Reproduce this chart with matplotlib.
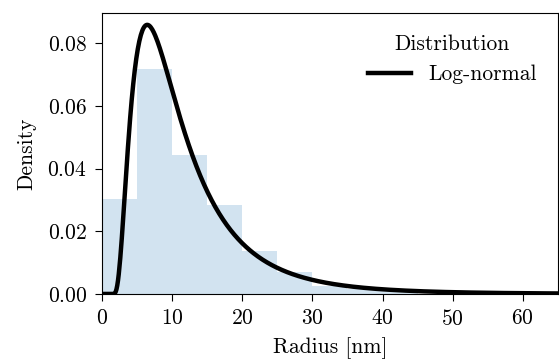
import numpy as np
import matplotlib
matplotlib.use("Agg")
import matplotlib.pyplot as plt

# histogram of radii (density, 5 nm bins)
bin_edges = [0, 5, 10, 15, 20, 25, 30, 35, 40, 45]
bin_density = [0.0302, 0.0719, 0.0443, 0.0285, 0.0138, 0.0071, 0.0025, 0.0015, 0.0010]

# fitted log-normal (shape, loc, scale)
ln_shape = 0.714
ln_loc = 1.4
ln_scale = 8.4

x_ticks = [0, 10, 20, 30, 40, 50, 60]
y_ticks = [0.00, 0.02, 0.04, 0.06, 0.08]

plt.rcParams["font.family"] = "serif"
plt.rcParams["font.serif"] = ["cmr10"]
plt.rcParams["axes.formatter.use_mathtext"] = True
plt.rcParams["font.size"] = 15.5
plt.rcParams["xtick.major.size"] = 4.8
plt.rcParams["ytick.major.size"] = 4.8
plt.rcParams["xtick.major.pad"] = 6
plt.rcParams["ytick.major.pad"] = 6


def lognorm_pdf(x, s, loc, scale):
    u = np.asarray(x, dtype=float) - loc
    out = np.zeros_like(u)
    m = u > 0
    out[m] = np.exp(-(np.log(u[m] / scale)) ** 2 / (2 * s ** 2)) / (u[m] * s * np.sqrt(2 * np.pi))
    return out


fig = plt.figure(figsize=(5.59, 3.62), dpi=100)
ax = fig.add_axes([0.1825, 0.188, 0.8155, 0.776])

ax.bar(bin_edges[:-1], bin_density, width=np.diff(bin_edges), align="edge",
       color="#1f77b4", alpha=0.2, linewidth=0)

xs = np.linspace(0, 65, 600)
ax.plot(xs, lognorm_pdf(xs, ln_shape, ln_loc, ln_scale), color="black", linewidth=3.2, label="Log-normal")

ax.set_xlim(0, 65)
ax.set_ylim(0, 0.0896)
ax.set_xticks(x_ticks)
ax.set_yticks(y_ticks)
ax.set_xlabel("Radius [nm]", labelpad=6)
ax.set_ylabel("Density", labelpad=8)
ax.legend(title="Distribution", frameon=False, loc="upper right", borderaxespad=0.6)

fig.savefig("out.png", dpi=100)
